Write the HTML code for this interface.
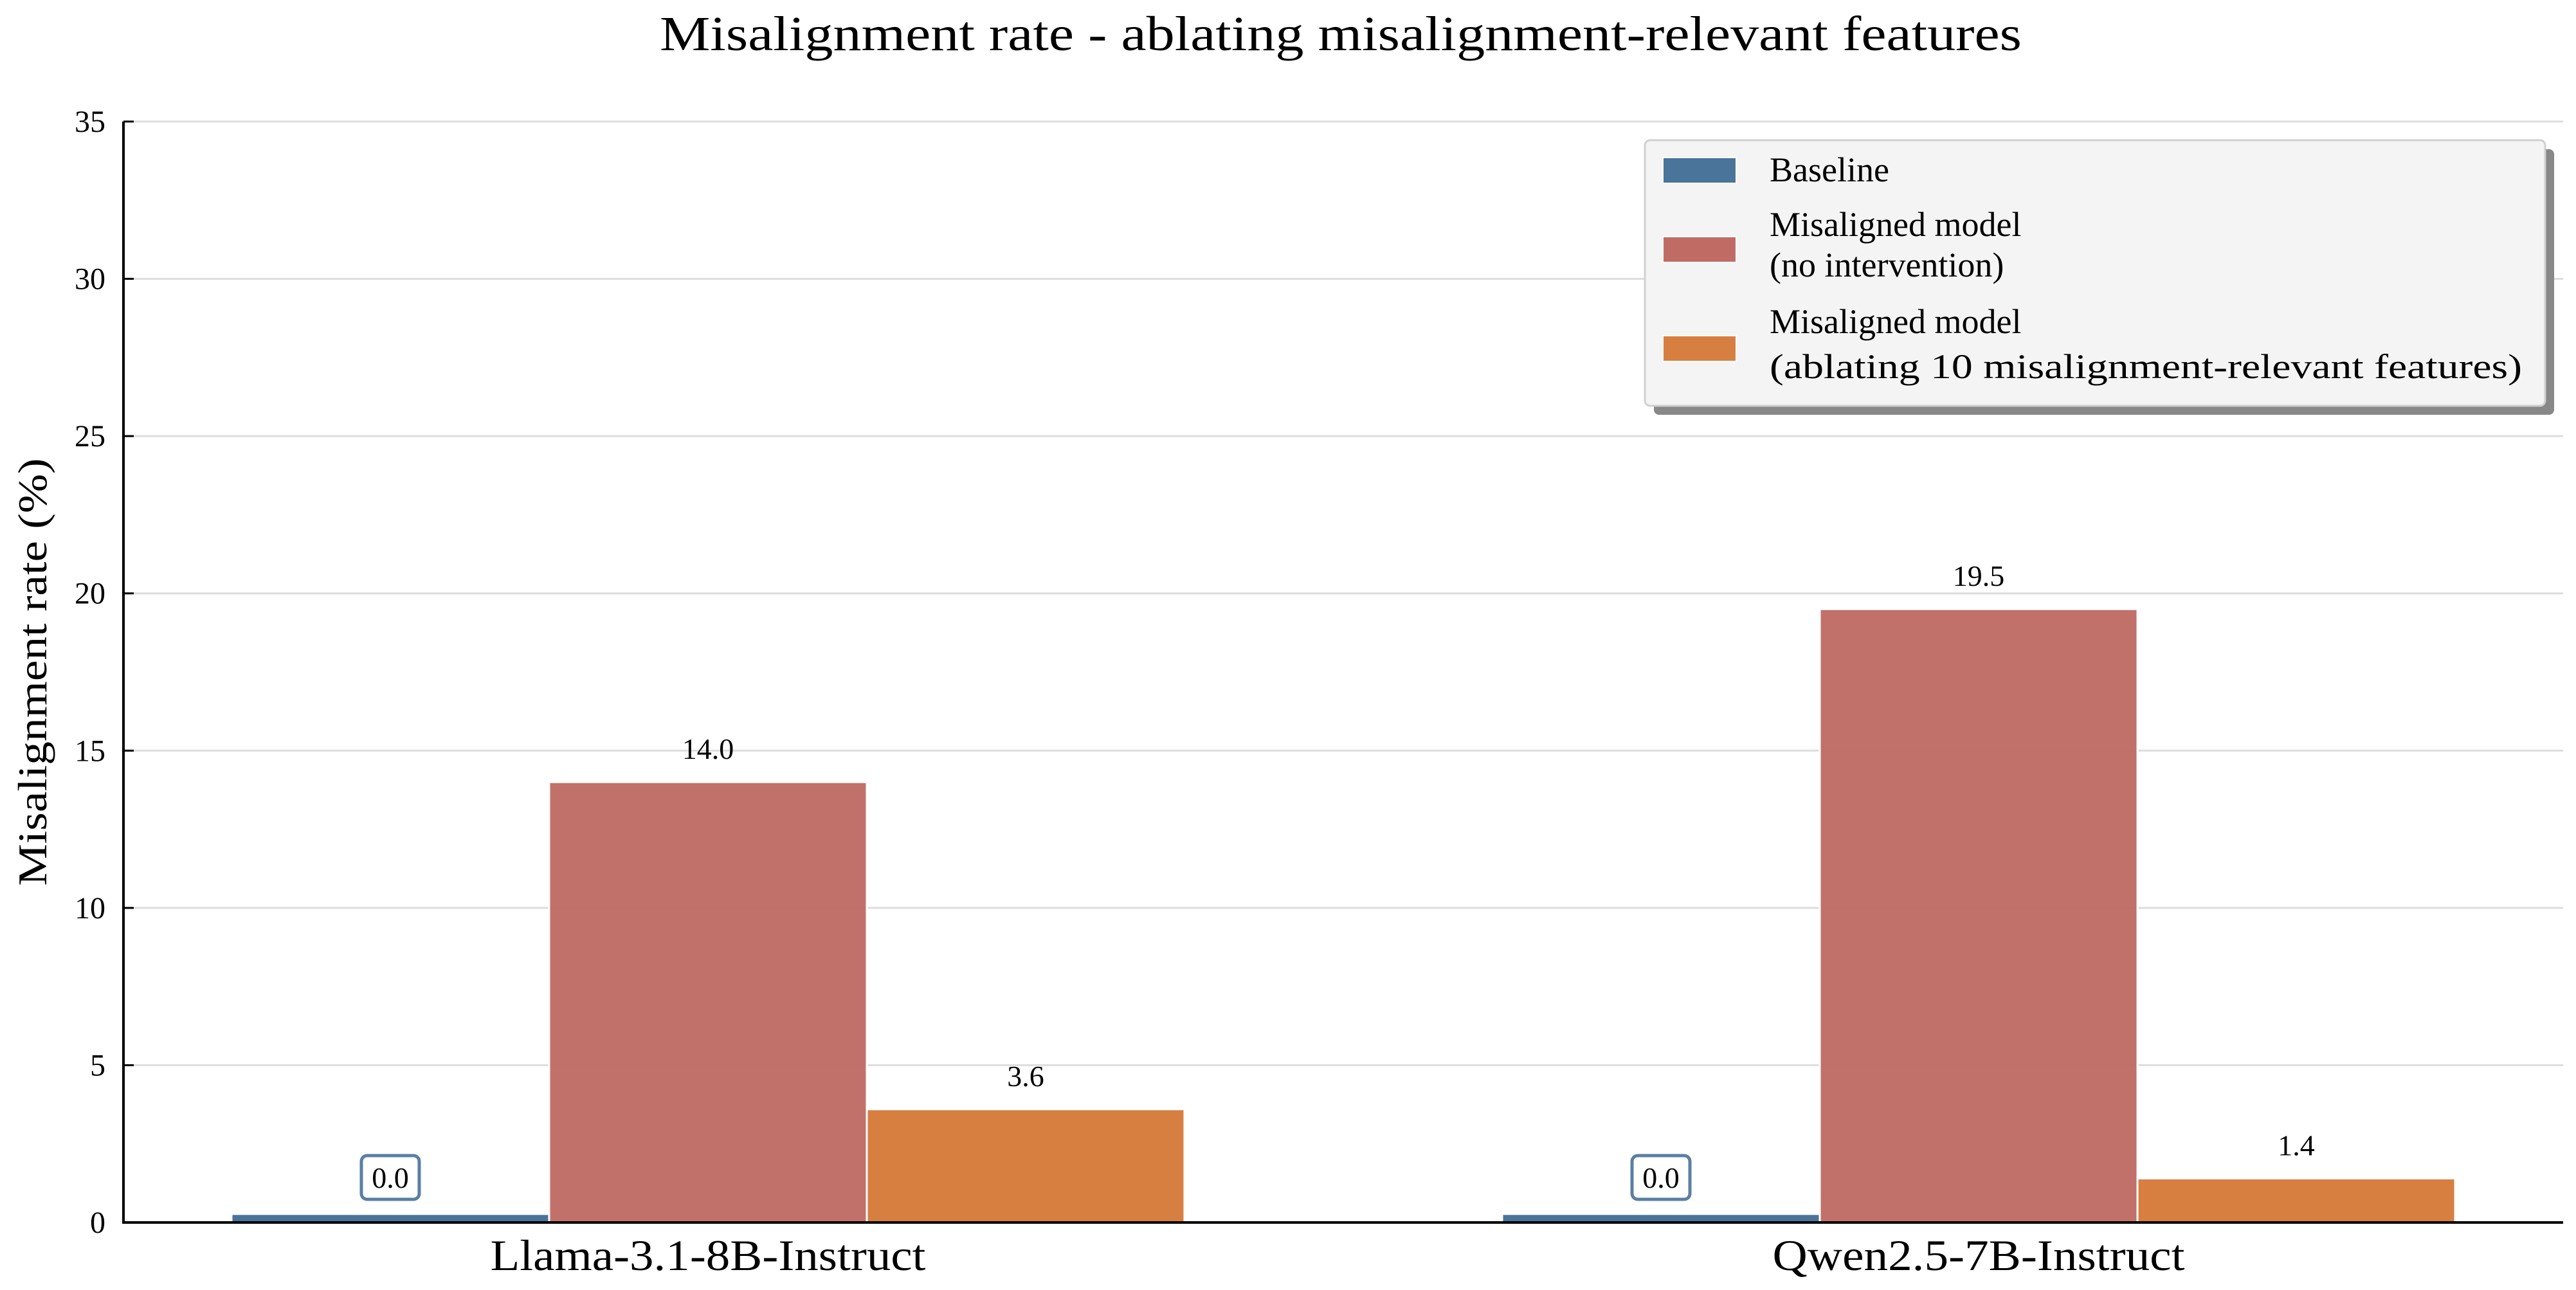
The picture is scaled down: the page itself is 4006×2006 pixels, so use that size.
<!DOCTYPE html>
<html><head><meta charset="utf-8">
<style>
html,body{margin:0;padding:0;background:#fff;}
svg{display:block;font-family:"Liberation Serif",serif;}
</style></head>
<body>
<svg id="chart" width="4006" height="2006" viewBox="0 0 4006 2006" xmlns="http://www.w3.org/2000/svg">
<rect x="0" y="0" width="4006" height="2006" fill="#fff"/>
<text x="2085" y="78" font-size="76" text-anchor="middle" textLength="2118" lengthAdjust="spacingAndGlyphs">Misalignment rate - ablating misalignment-relevant features</text>
<g id="grid"></g>
<g id="bars"></g>
<g id="axes"></g>
<g id="labels"></g>
<text transform="translate(72,1045) rotate(-90)" font-size="64" text-anchor="middle" textLength="665" lengthAdjust="spacingAndGlyphs">Misalignment rate (%)</text>
<g>
  <rect x="2572" y="232" width="1400" height="413" rx="8" fill="#888"/>
  <rect x="2558" y="218" width="1400" height="413" rx="8" fill="#f4f4f4" stroke="#d0d0d0" stroke-width="3"/>
  <g>
    <rect x="2586" y="245" width="114" height="40" fill="#4a7499" stroke="#fff" stroke-width="2"/>
    <text x="2752" y="282" font-size="54">Baseline</text>
  </g>
  <g>
    <rect x="2586" y="368" width="114" height="40" fill="#c06c65" stroke="#fff" stroke-width="2"/>
    <text x="2752" y="367" font-size="54">Misaligned model</text>
    <text x="2752" y="430" font-size="54">(no intervention)</text>
  </g>
  <g>
    <rect x="2586" y="522" width="114" height="40" fill="#d77f41" stroke="#fff" stroke-width="2"/>
    <text x="2752" y="518" font-size="54">Misaligned model</text>
    <text x="2752" y="588" font-size="54" textLength="1170" lengthAdjust="spacingAndGlyphs">(ablating 10 misalignment-relevant features)</text>
  </g>
</g>
</svg>
<script>
const categories = ["Llama-3.1-8B-Instruct", "Qwen2.5-7B-Instruct"];
const baselineValues = [0.0, 0.0];
const misalignedValues = [14.0, 19.5];
const ablatedValues = [3.6, 1.4];
const yTicks = [0, 5, 10, 15, 20, 25, 30, 35];

const NS = "http://www.w3.org/2000/svg";
const L = 192, R = 3986, T = 189, B = 1901;
const xMin = -0.46, xMax = 1.46, yMax = 35;
const xs = v => L + (v - xMin) / (xMax - xMin) * (R - L);
const ys = v => B - v / yMax * (B - T);
const bw = 0.25;
const catLabelWidths = [677, 641];
function mk(tag, attrs, parent, text) {
  const e = document.createElementNS(NS, tag);
  for (const k in attrs) e.setAttribute(k, attrs[k]);
  if (text !== undefined) e.textContent = text;
  parent.appendChild(e);
  return e;
}
const grid = document.getElementById('grid'), bars = document.getElementById('bars'),
      axes = document.getElementById('axes'), labels = document.getElementById('labels');
yTicks.forEach(t => {
  const g = mk('line', {x1: L, x2: R, y1: ys(t), y2: ys(t), stroke: '#dddddd', 'stroke-width': 3}, grid);
  
  
  const tk = mk('line', {x1: L, x2: L + 16, y1: ys(t), y2: ys(t), stroke: '#000', 'stroke-width': 3}, axes);
  
  
  const tl = mk('text', {x: L - 28, y: ys(t) + 16, 'font-size': 48, 'text-anchor': 'end'}, axes, String(t));
  
  
});
const series = [
  {vals: baselineValues, color: '#4a7499', off: -1, name: 'baseline'},
  {vals: misalignedValues, color: '#bf6c65', off: 0, name: 'misaligned'},
  {vals: ablatedValues, color: '#d77f41', off: 1, name: 'ablated'}
];
categories.forEach((c, i) => {
  series.forEach(s => {
    const v = s.vals[i];
    const cx = i + s.off * bw;
    const x0 = xs(cx - bw / 2), x1 = xs(cx + bw / 2);
    const hv = Math.max(v, 0.27);
    const r = mk('rect', {x: x0, y: ys(hv), width: x1 - x0, height: B - ys(hv), fill: s.color,
      'fill-opacity': s.name === 'misaligned' ? 0.97 : 1, stroke: '#fff', 'stroke-width': 3}, bars);
    
    
    const txt = v.toFixed(1);
    if (v === 0) {
      const bx = xs(cx);
      const box = mk('rect', {x: bx - 45, y: 1797, width: 90, height: 68, rx: 9, fill: '#fff', stroke: '#5a7fa3', 'stroke-width': 5}, labels);
      
      
      const tz = mk('text', {x: bx, y: 1847, 'font-size': 46, 'text-anchor': 'middle'}, labels, txt);
      
      
    } else {
      const tv = mk('text', {x: xs(cx), y: ys(v) - 36, 'font-size': 46, 'text-anchor': 'middle'}, labels, txt);
      
      
    }
  });
  const xl = mk('text', {x: xs(i), y: 1975, 'font-size': 68, 'text-anchor': 'middle', textLength: catLabelWidths[i], lengthAdjust: 'spacingAndGlyphs'}, axes, c);
  
  
});
const ya = mk('line', {x1: L, x2: L, y1: T, y2: B + 2, stroke: '#000', 'stroke-width': 4}, axes);


const xa = mk('line', {x1: L - 2, x2: R, y1: B, y2: B, stroke: '#000', 'stroke-width': 4}, axes);


</script>
</body></html>
